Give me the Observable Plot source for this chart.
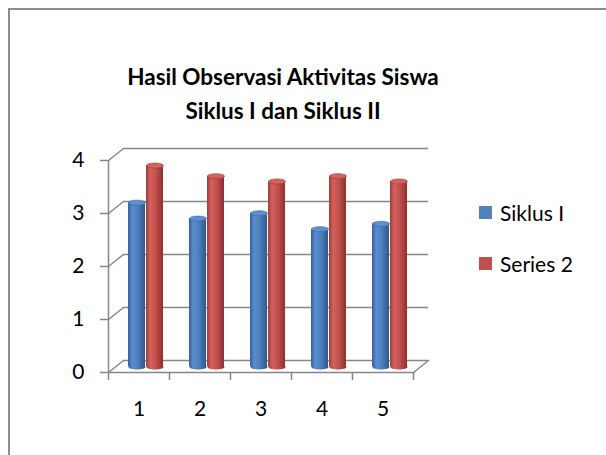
<!DOCTYPE html>
<html>
<head>
<meta charset="utf-8">
<script src="https://cdn.jsdelivr.net/npm/d3@7"></script>
<script src="https://cdn.jsdelivr.net/npm/@observablehq/plot@0.6"></script>
<style>
html,body{margin:0;padding:0;background:#fff;overflow:hidden;}
#wrap{position:relative;width:606px;height:455px;overflow:hidden;font-family:Lato,"Open Sans",sans-serif;color:#000;}
#border{position:absolute;left:8px;top:8px;width:800px;height:800px;border:2px solid #8c8c8c;box-sizing:border-box;}
#chart{position:absolute;left:0;top:0;}
#title{position:absolute;left:0;width:566px;top:60px;text-align:center;font-weight:bold;font-size:22.5px;line-height:34px;}
.leg{position:absolute;left:479px;height:24px;display:flex;align-items:center;font-size:21px;}
.sw{width:13px;height:13px;margin-right:8px;}
</style>
</head>
<body>
<div id="wrap">
  <div id="border"></div>
  <div id="chart"></div>
  <div id="title">Hasil Observasi Aktivitas Siswa<br>Siklus I dan Siklus II</div>
  <div id="legend"></div>
</div>
<script>
// ---- data ----
const categories = [1, 2, 3, 4, 5];
const seriesNames = ["Siklus I", "Series 2"];
const siklus1 = [3.1, 2.8, 2.9, 2.6, 2.7];
const series2 = [3.8, 3.6, 3.5, 3.6, 3.5];
const yTicks = [0, 1, 2, 3, 4];
const colors = ["#4f81bd", "#c0504d"];
const topColors = ["#5e90d0", "#d3625f"];
const edgeColors = ["#3a6399", "#9b3a38"];

const valuesBySeries = [siklus1, series2];
const rows = [];
seriesNames.forEach((s, si) => categories.forEach((c, ci) => rows.push({cat: c, series: s, si, value: valuesBySeries[si][ci]})));
const boundaries = [categories[0] - 0.5, ...categories.map(c => c + 0.5)];

// ---- styling ----
const grid = "#868686";
const backDX = 15, backDY = -12;   // back wall offset (pseudo 3D)
const midDX = 7.5, midDY = -5.5;   // bar depth offset
const insets = [[12.5, 31.5], [30.5, 13.5]];
const centerOff = [-9.5, 8.5];
const diagLen = Math.hypot(backDX, backDY);
const diagRot = Math.atan2(backDX, -backDY) * 180 / Math.PI;

const lineShape = {draw(ctx, l) { ctx.moveTo(0, 0); ctx.lineTo(0, -l); }};
const ellipse = {draw(ctx, size) {
  const rx = Math.sqrt(size / Math.PI), ry = rx * 0.3, k = 0.5523;
  ctx.moveTo(-rx, 0);
  ctx.bezierCurveTo(-rx, -ry * k, -rx * k, -ry, 0, -ry);
  ctx.bezierCurveTo(rx * k, -ry, rx, -ry * k, rx, 0);
  ctx.bezierCurveTo(rx, ry * k, rx * k, ry, 0, ry);
  ctx.bezierCurveTo(-rx * k, ry, -rx, ry * k, -rx, 0);
  ctx.closePath();
}};

const barMarks = [];
seriesNames.forEach((s, si) => {
  const d = rows.filter(r => r.si === si);
  barMarks.push(
    Plot.dot(d, {x: "cat", y: () => 0, r: 8.5, symbol: ellipse, fill: `url(#cyl${si})`, stroke: "none", dx: midDX + centerOff[si], dy: midDY}),
    Plot.rectY(d, {x1: r => r.cat - 0.5, x2: r => r.cat + 0.5, y1: () => 0, y2: "value", insetLeft: insets[si][0], insetRight: insets[si][1], fill: `url(#cyl${si})`, dx: midDX, dy: midDY}),
    Plot.dot(d, {x: "cat", y: "value", r: 8.5, symbol: ellipse, fill: topColors[si], stroke: edgeColors[si], strokeWidth: 0.6, dx: midDX + centerOff[si], dy: midDY})
  );
});

const chart = Plot.plot({
  width: 606,
  height: 455,
  marginLeft: 108,
  marginRight: 193,
  marginTop: 160,
  marginBottom: 83,
  style: {fontFamily: "Lato, 'Open Sans', sans-serif", background: "transparent", color: "#000"},
  x: {type: "linear", domain: [0.5, 5.5]},
  y: {domain: [0, 4]},
  marks: [
    // back wall gridlines
    Plot.ruleY(yTicks, {y: d => d, dx: backDX, dy: backDY, stroke: grid, strokeWidth: 1.5}),
    // left depth diagonals
    Plot.vector(yTicks, {x: () => boundaries[0], y: d => d, length: diagLen, rotate: diagRot, anchor: "start", shape: lineShape, stroke: grid, strokeWidth: 1.5}),
    // right floor diagonal
    Plot.vector([0], {x: () => boundaries[boundaries.length - 1], y: d => d, length: diagLen, rotate: diagRot, anchor: "start", shape: lineShape, stroke: grid, strokeWidth: 1.5}),
    // front axis lines
    Plot.ruleX([boundaries[0]], {x: d => d, stroke: grid, strokeWidth: 1.5}),
    Plot.ruleY([0], {y: d => d, stroke: grid, strokeWidth: 1.5}),
    Plot.axisY({ticks: yTicks, tickSize: 8, tickPadding: 16, fontSize: 21, label: null, stroke: grid, strokeWidth: 1.5, tickFormat: d => String(d)}),
    Plot.axisX({ticks: boundaries, tickSize: 8, tickFormat: () => "", label: null, stroke: grid, strokeWidth: 1.5}),
    Plot.axisX({ticks: categories, tickSize: 0, tickPadding: 29, fontSize: 21, label: null, tickFormat: d => String(d)}),
    ...barMarks
  ]
});

// cylinder gradients
const defs = d3.select(chart).insert("defs", ":first-child");
const gradStops = [
  [["0%", "#35609a"], ["25%", "#5a8dcf"], ["55%", "#4f81bf"], ["100%", "#2f578c"]],
  [["0%", "#9e3c3a"], ["25%", "#d3625f"], ["55%", "#c3524f"], ["100%", "#8f302e"]]
];
gradStops.forEach((stops, i) => {
  const g = defs.append("linearGradient").attr("id", `cyl${i}`).attr("x1", "0").attr("x2", "1").attr("y1", "0").attr("y2", "0");
  stops.forEach(([o, c]) => g.append("stop").attr("offset", o).attr("stop-color", c));
});
document.getElementById("chart").appendChild(chart);

// legend
const legend = document.getElementById("legend");
const legendTops = [200, 251];
seriesNames.forEach((s, i) => {
  const item = document.createElement("div");
  item.className = "leg";
  item.style.top = legendTops[i] + "px";
  item.innerHTML = `<div class="sw" style="background:${colors[i]}"></div><span>${s}</span>`;
  legend.appendChild(item);
});
</script>
</body>
</html>
